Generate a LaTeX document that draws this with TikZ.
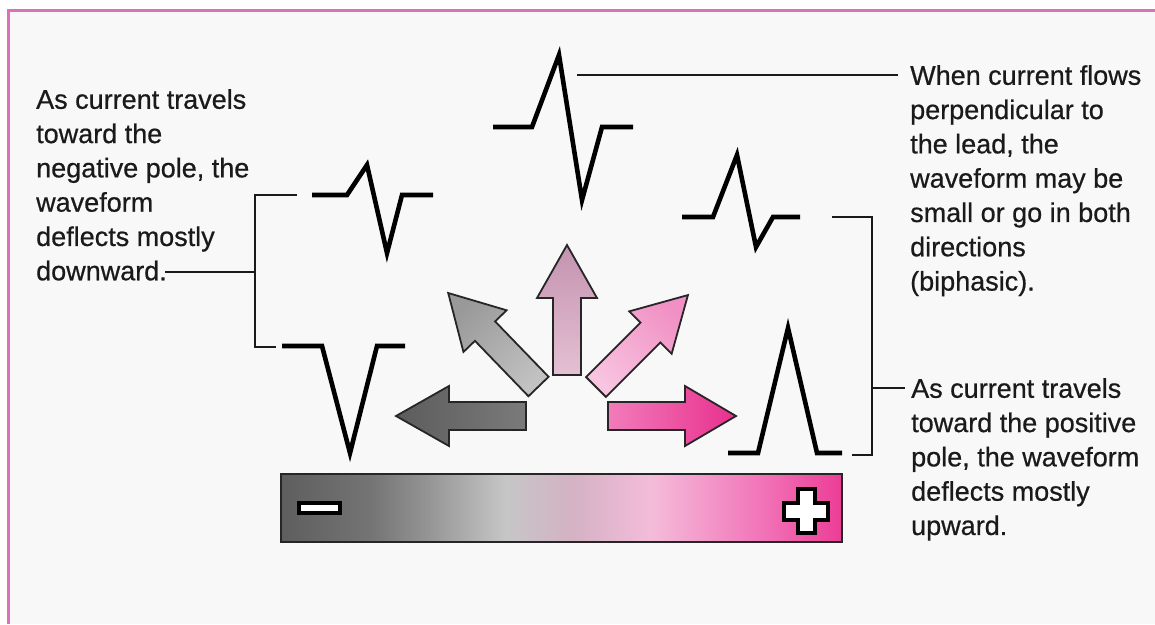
\documentclass[tikz,border=0pt]{standalone}
\usepackage{fontspec}
\setmainfont{Liberation Sans}[FakeBold=0.6]
\definecolor{frame}{HTML}{D873B9}
\definecolor{bg}{HTML}{F8F8F8}
\definecolor{txt}{HTML}{1A1A1A}
\definecolor{b0}{HTML}{5E5E5E}
\definecolor{b1}{HTML}{747474}
\definecolor{b1a}{HTML}{949494}
\definecolor{b2}{HTML}{C6C6C6}
\definecolor{b3}{HTML}{D4B2C4}
\definecolor{b4}{HTML}{F4BCDA}
\definecolor{b5}{HTML}{F27ABB}
\definecolor{b6}{HTML}{EC3D96}
\pgfdeclarehorizontalshading{barshade}{100bp}{color(0bp)=(b0); color(25bp)=(b0); color(33bp)=(b1); color(38bp)=(b1a); color(45bp)=(b2); color(51bp)=(b3); color(58bp)=(b4); color(67bp)=(b5); color(75bp)=(b6); color(100bp)=(b6)}
\begin{document}
\begin{tikzpicture}[x=1pt,y=-1pt,
  wave/.style={line width=4.6pt, line join=miter, miter limit=10},
  brk/.style={line width=2.2pt, draw=txt},
  arrowbox/.style={draw=black!85, line width=1.8pt, line join=miter},
  lbl/.style={font=\fontsize{27}{34.3}\selectfont, align=left, anchor=north west, inner sep=0pt, text=txt}]
\useasboundingbox (0,0) rectangle (1155,624);
% background and frame
\fill[white] (0,0) rectangle (1155,624);
\fill[bg] (8,10) rectangle (1155,624);
\draw[frame, line width=3pt] (8,624) -- (8,10) -- (1155,10);

% texts
\node[lbl] (ltext) at (36,89) {As current travels\\toward the\\negative pole, the\\waveform\\deflects mostly\\downward.};
\node[lbl] (ttext) at (910,65) {When current flows\\perpendicular to\\the lead, the\\waveform may be\\small or go in both\\directions\\(biphasic).};
\node[lbl] (btext) at (911,378) {As current travels\\toward the positive\\pole, the waveform\\deflects mostly\\upward.};

% named coordinates for the connectors
\coordinate (lt) at (165,272);
\coordinate (lb) at (255,272);
\coordinate (tt) at (577,75);
\coordinate (te) at (898,75);
\coordinate (rb) at (872,388);
\coordinate (rt) at (905,388);

% brackets and leader lines
\draw[brk] (297,195) -- (255,195) -- (255,347) -- (276,347);
\draw[brk] (lt) -- (lb);
\draw[brk] (tt) -- (te);
\draw[brk] (832,217) -- (872,217) -- (872,455) -- (852,455);
\draw[brk] (rb) -- (rt);

% waveforms
\draw[wave] (312,195) -- (347,195) -- (367,165) -- (387,253) -- (402,195) -- (433,195);
\draw[wave] (493,127) -- (532,127) -- (559,55) -- (582,200) -- (602,127) -- (633,127);
\draw[wave] (282,346) -- (322,346) -- (350,453) -- (377,346) -- (405,346);
\draw[wave] (682,217) -- (713,217) -- (737,155) -- (756,247) -- (773,217) -- (800,217);
\draw[wave] (728,453) -- (758,453) -- (788,328) -- (817,453) -- (842,453);

% arrows
\path[arrowbox, top color=black!64, bottom color=black!52, shading angle=90]
  (526,430) -- (449,430) -- (449,446) -- (396,416) -- (449,386) -- (449,402) -- (526,402) -- cycle;
\path[arrowbox, top color=black!40, bottom color=black!24, shading angle=44]
  (528.45,396.24) -- (474.96,340.85) -- (463.45,351.96) -- (448.21,293.0) -- (506.61,310.28) -- (495.1,321.39) -- (548.59,376.78) -- cycle;
\path[arrowbox, top color={rgb,255:red,196;green,147;blue,176}, bottom color={rgb,255:red,228;green,192;blue,210}, shading angle=0]
  (553,375) -- (553,298) -- (537,298) -- (567,245) -- (597,298) -- (581,298) -- (581,375) -- cycle;
\path[arrowbox, top color={rgb,255:red,240;green,144;blue,196}, bottom color={rgb,255:red,248;green,196;blue,224}, shading angle=-45]
  (586.09,377.11) -- (640.54,322.66) -- (629.23,311.35) -- (687.92,295.08) -- (671.65,353.77) -- (660.34,342.46) -- (605.89,396.91) -- cycle;
\path[arrowbox, top color={rgb,255:red,232;green,48;blue,142}, bottom color={rgb,255:red,242;green,124;blue,186}, shading angle=-90]
  (608,402) -- (685,402) -- (685,386) -- (736,416) -- (685,446) -- (685,430) -- (608,430) -- cycle;

% polarity bar
\shade[shading=barshade] (281,474) rectangle (842,542);
\draw[line width=2.5pt, draw=black!85] (281,474) rectangle (842,542);
\draw[line width=4pt, fill=white] (299,503) rectangle (340,513);
\draw[line width=4pt, fill=white, line join=miter]
  (797.5,489) -- (814.5,489) -- (814.5,502.5) -- (828,502.5) -- (828,519.5) -- (814.5,519.5)
  -- (814.5,533) -- (797.5,533) -- (797.5,519.5) -- (784,519.5) -- (784,502.5) -- (797.5,502.5) -- cycle;
\end{tikzpicture}
\end{document}
